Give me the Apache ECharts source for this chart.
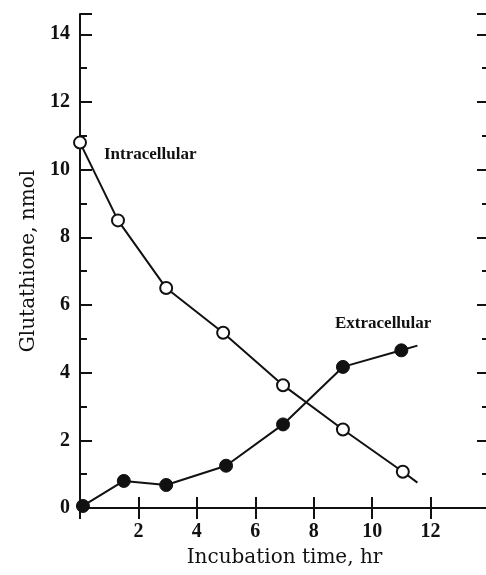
<!DOCTYPE html>
<html>
<head>
<meta charset="utf-8">
<script src="https://cdn.jsdelivr.net/npm/echarts@6/dist/echarts.min.js"></script>
<style>
  html, body { margin: 0; padding: 0; background: #fff; }
  #chart { width: 486px; height: 575px; }
</style>
</head>
<body>
<div id="chart"></div>
<script>
// ---- data ----
const intraX = [0, 1.3, 2.95, 4.9, 6.95, 9.0, 11.05, 11.55];
const intraY = [10.8, 8.5, 6.5, 5.18, 3.63, 2.32, 1.07, 0.75];
const extraX = [0.1, 1.5, 2.95, 5.0, 6.95, 9.0, 11.0, 11.55];
const extraY = [0.06, 0.8, 0.68, 1.25, 2.47, 4.17, 4.66, 4.8];
// last entry of each series is the end of the drawn line (no marker)
const xTickLabels = [2, 4, 6, 8, 10, 12];
const yTickLabels = [0, 2, 4, 6, 8, 10, 12, 14];
const xTitle = 'Incubation time, hr';
const yTitle = 'Glutathione, nmol';
const intraName = 'Intracellular';
const extraName = 'Extracellular';

const INK = '#111';
const tickFont = { fontFamily: 'Liberation Serif', fontWeight: 'bold', fontSize: 20, color: INK };
const titleFont = { fontFamily: 'DejaVu Serif', fontSize: 20, color: INK };

function build(xs, ys) {
  return xs.map((x, i) => {
    const item = { value: [x, ys[i]] };
    if (i === xs.length - 1) item.symbol = 'none';
    return item;
  });
}

const axisLine = { show: true, lineStyle: { color: INK, width: 2 } };

const chart = echarts.init(document.getElementById('chart'), null, { renderer: 'canvas' });
chart.setOption({
  animation: false,
  backgroundColor: '#fff',
  grid: { left: 80, top: 14, width: 409, height: 494, containLabel: false, outerBoundsMode: 'none' },
  xAxis: [
    {
      type: 'value', position: 'bottom', min: 0, max: 14, interval: 2,
      axisLine: axisLine,
      axisTick: { show: true, inside: true, length: 11, lineStyle: { color: INK, width: 2 } },
      axisLabel: Object.assign({ margin: 14, formatter: v => xTickLabels.indexOf(v) >= 0 ? String(v) : '' }, tickFont),
      splitLine: { show: false },
      name: xTitle, nameLocation: 'middle', nameGap: 40, nameTextStyle: titleFont
    },
    {
      type: 'value', position: 'top', min: 0, max: 14, interval: 2,
      axisLine: axisLine,
      axisTick: { show: true, inside: true, length: 11, lineStyle: { color: INK, width: 2 } },
      axisLabel: { show: false },
      splitLine: { show: false }
    }
  ],
  yAxis: [
    {
      type: 'value', position: 'left', min: 0, max: 14.6, interval: 2,
      axisLine: axisLine,
      axisTick: { show: true, inside: true, length: 12, lineStyle: { color: INK, width: 2 } },
      axisLabel: Object.assign({ margin: 10, formatter: v => yTickLabels.indexOf(v) >= 0 ? String(v) : '' }, tickFont),
      splitLine: { show: false },
      name: yTitle, nameLocation: 'middle', nameGap: 38, nameTextStyle: titleFont
    },
    {
      type: 'value', position: 'left', min: 0, max: 14.6, interval: 1,
      axisLine: { show: false },
      axisTick: { show: true, inside: true, length: 7, lineStyle: { color: INK, width: 2 } },
      axisLabel: { show: false },
      splitLine: { show: false }
    },
    {
      type: 'value', position: 'right', min: 0, max: 14.6, interval: 2,
      axisLine: axisLine,
      axisTick: { show: true, inside: true, length: 12, lineStyle: { color: INK, width: 2 } },
      axisLabel: { show: false },
      splitLine: { show: false }
    },
    {
      type: 'value', position: 'right', min: 0, max: 14.6, interval: 1,
      axisLine: { show: false },
      axisTick: { show: true, inside: true, length: 7, lineStyle: { color: INK, width: 2 } },
      axisLabel: { show: false },
      splitLine: { show: false }
    }
  ],
  series: [
    {
      name: intraName, type: 'line', xAxisIndex: 0, yAxisIndex: 0,
      data: build(intraX, intraY),
      symbol: 'circle', symbolSize: 12,
      lineStyle: { color: INK, width: 2 },
      itemStyle: { color: '#fff', borderColor: INK, borderWidth: 2 },
      z: 3
    },
    {
      name: extraName, type: 'line', xAxisIndex: 0, yAxisIndex: 0,
      data: build(extraX, extraY),
      symbol: 'circle', symbolSize: 13,
      lineStyle: { color: INK, width: 2 },
      itemStyle: { color: INK, borderColor: INK, borderWidth: 1 },
      z: 4
    }
  ],
  graphic: [
    { type: 'text', left: 104, top: 146, style: { text: intraName, font: 'bold 17px "Liberation Serif"', fill: INK } },
    { type: 'text', left: 335, top: 315, style: { text: extraName, font: 'bold 17px "Liberation Serif"', fill: INK } }
  ]
});
</script>
</body>
</html>
